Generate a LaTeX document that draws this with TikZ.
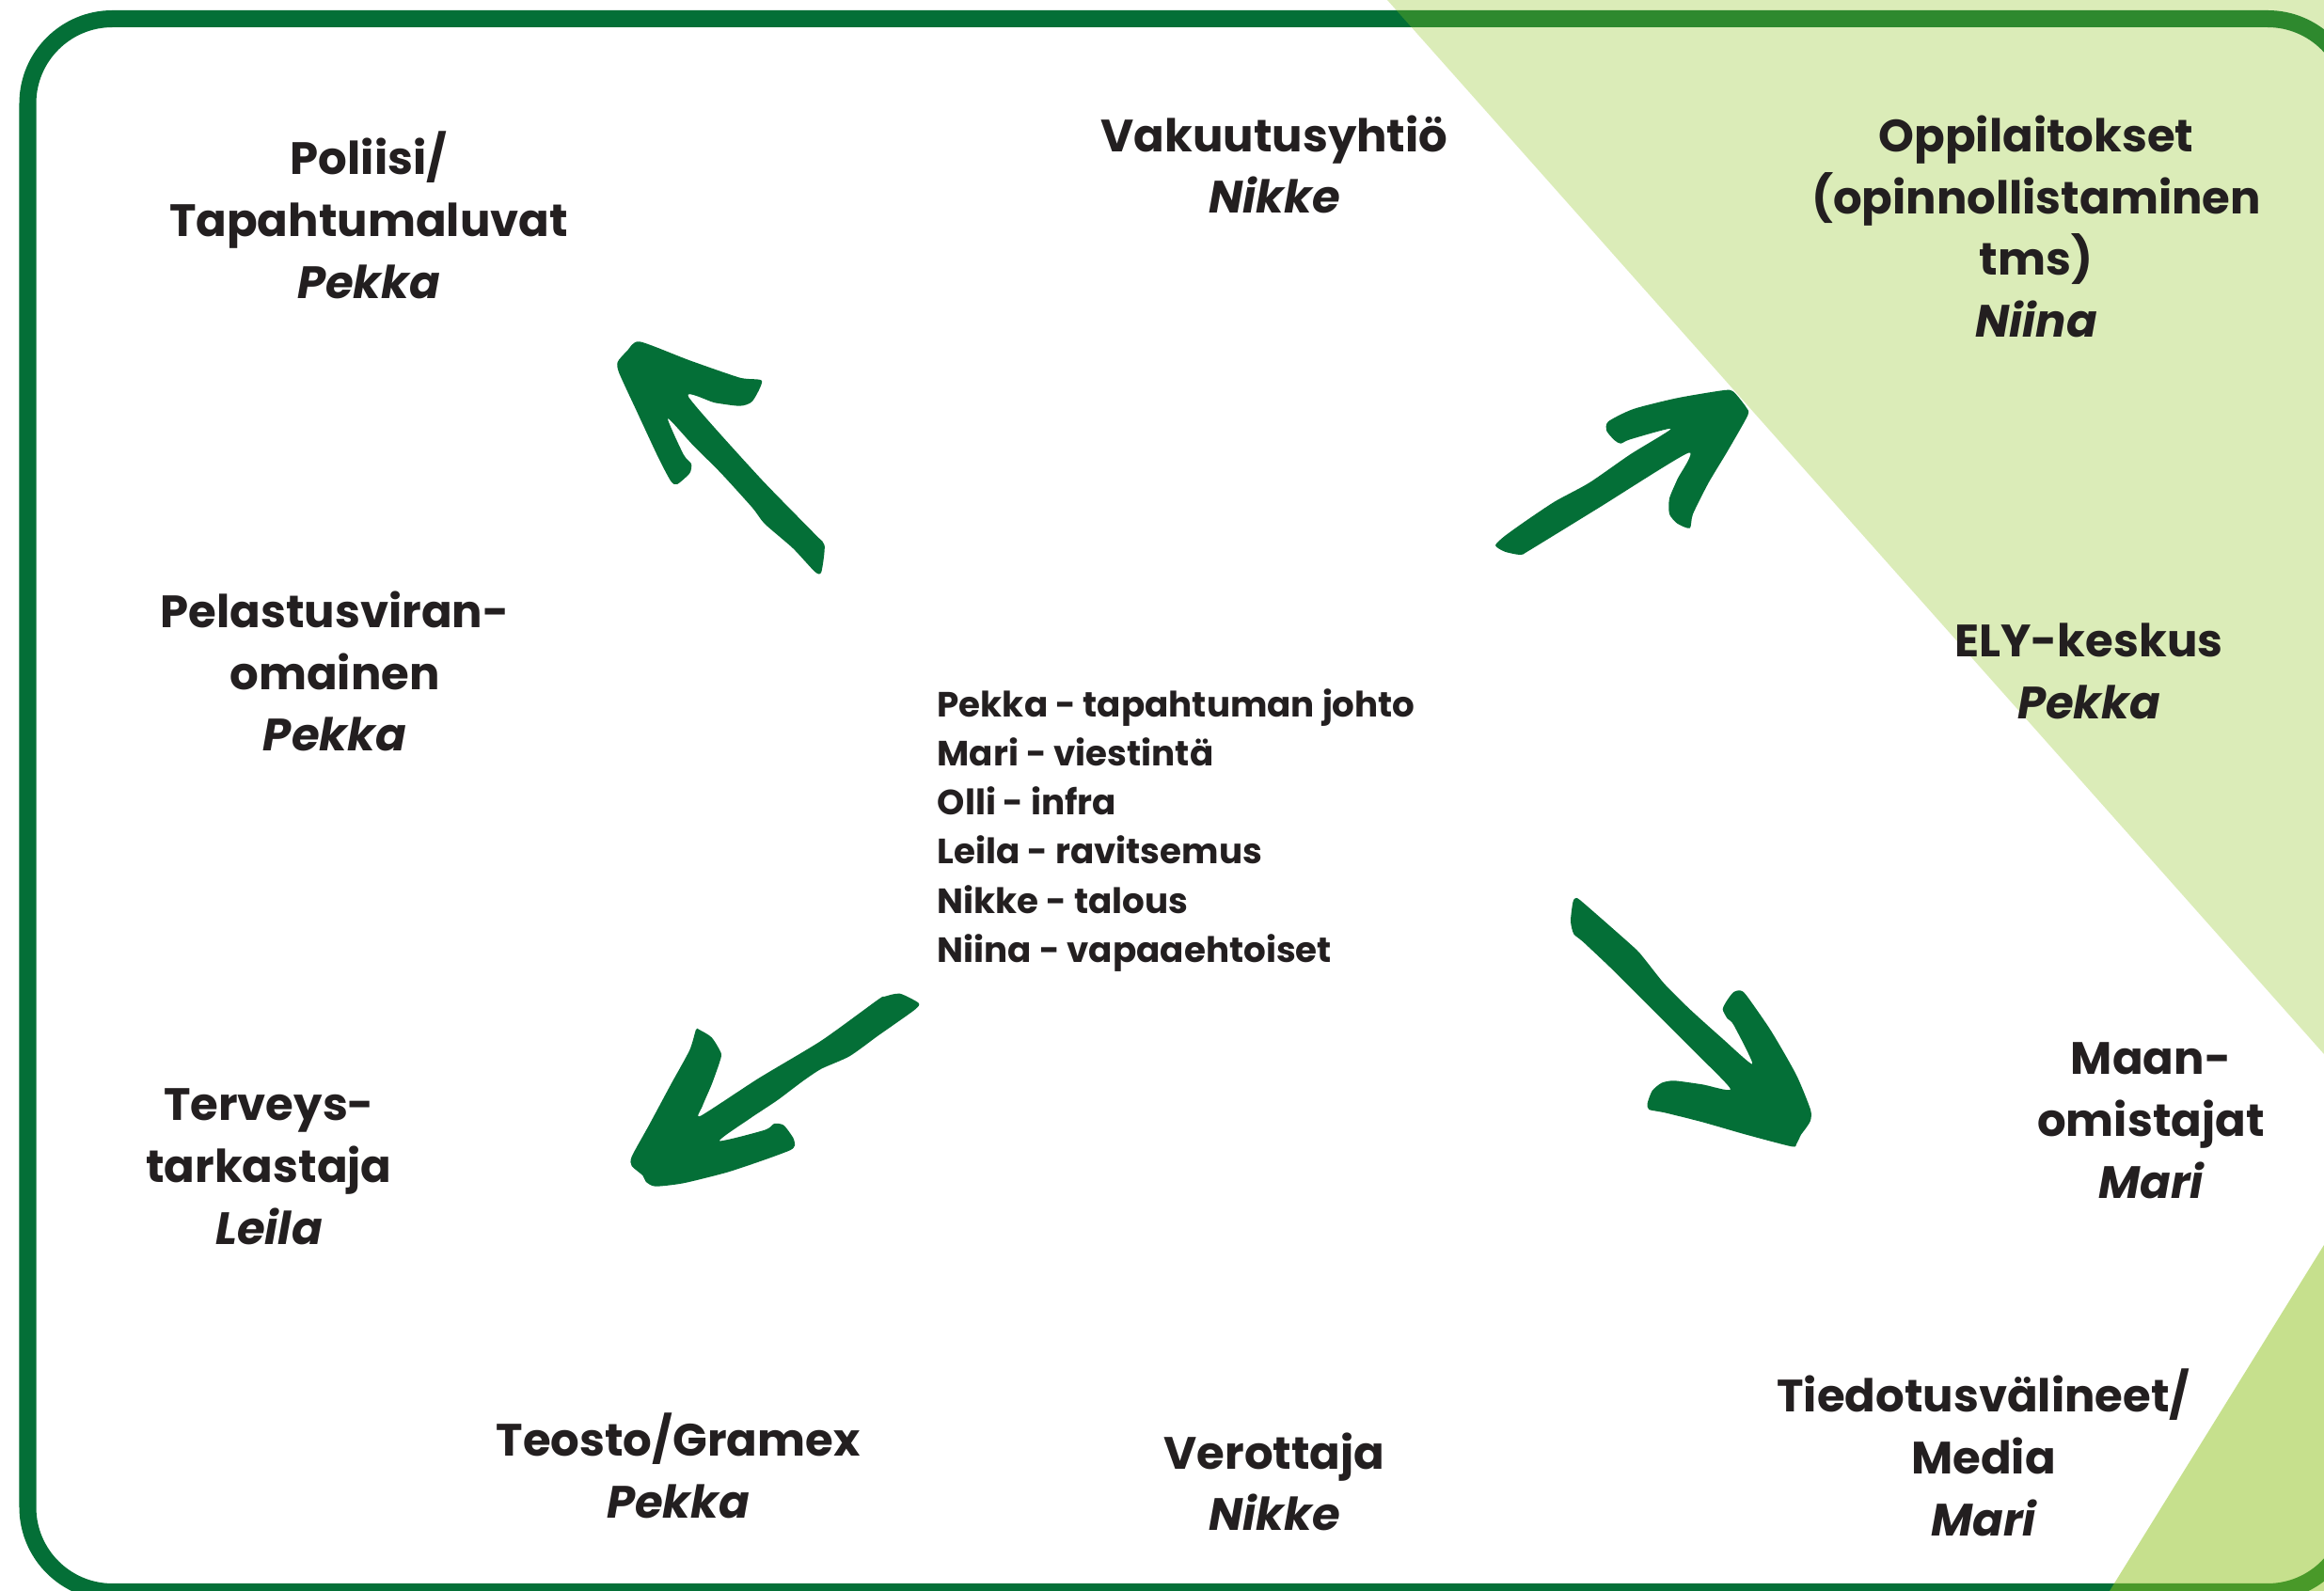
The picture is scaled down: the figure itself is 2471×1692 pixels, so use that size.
\documentclass[tikz,border=0pt]{standalone}
\usepackage{fontspec}
\setmainfont{Poppins}
\definecolor{forest}{HTML}{046F37}
\definecolor{lime}{HTML}{8EC31C}
\definecolor{ink}{HTML}{231F20}

\begin{document}
\begin{tikzpicture}[x=0.01cm, y=-0.01cm,
  frame/.style={draw=forest, line width=0.18cm, rounded corners=0.9cm},
  wash/.style={fill=lime, opacity=0.31},
  wedge/.style={fill=lime, opacity=0.5},
  brush/.style={fill=forest},
  lbl/.style={align=center, inner sep=0pt, text=ink,
    font=\fontsize{13.7}{18.7}\selectfont\bfseries},
  roles/.style={align=left, inner sep=0pt, text=ink, anchor=west,
    font=\fontsize{10.6}{14.8}\selectfont\bfseries}]

\useasboundingbox (0,0) rectangle (2471,1692);
\clip (0,0) rectangle (2471,1692);
\fill[white] (0,0) rectangle (2471,1692);

% rounded border, its right side runs past the page edge
\draw[frame] (29.5,20) rectangle (2501,1693);

% translucent green panels
\fill[wash] (1475,0) -- (2471,0) -- (2471,1121) -- cycle;
\fill[wedge] (2243,1692) -- (2471,1324) -- (2471,1692) -- cycle;

% brush-stroke arrows
\fill[brush] plot[smooth cycle, tension=0.4] coordinates {
  (666.7,373.3) (680,363.3) (733.3,383.3) (786.7,401.7) (810,405)
  (800,426.7) (786.7,431.7) (760,428.3) (732,422)
  (806.7,506.7) (866.7,568.3) (876.7,580) (873.3,608.3) (866.7,608.3)
  (843,583) (813,557) (800,540) (766.7,503.3) (736.7,473.3) (710,445)
  (726.7,483.3) (735,493.3) (733.3,503.3) (720,515) (713.3,511.7)
  (700,486.7) (676.7,436.7) (658.3,396.7) (656.7,385)};

\fill[brush] plot[smooth cycle, tension=0.4] coordinates {
  (1590,580) (1600,586.7) (1616.7,590) (1626.7,585) (1700,540) (1795,481.7)
  (1783.3,510) (1775,530) (1775,546.7) (1783.3,556.7) (1796.7,561.7)
  (1800,546.7) (1816.7,513.3) (1836.7,480) (1858.3,441.7) (1856.7,433.3)
  (1843.3,416.7) (1833.3,415) (1783.3,423.3) (1736.7,435) (1710,448.3)
  (1708.3,458.3) (1716.7,468.3) (1723.3,471.7) (1733.3,467.3) (1776.7,456)
  (1733.3,483.3) (1690,513.3) (1653.3,533.3) (1623.3,553.3) (1600,570)};

\fill[brush] plot[smooth cycle, tension=0.4] coordinates {
  (940,1060) (956.7,1056.7) (976.7,1066.7) (973.3,1073.3) (950,1090)
  (933.3,1101.7) (903.3,1123.3) (873.3,1136.7) (853.3,1150) (826.7,1170)
  (796.7,1190) (765,1213.3)
  (813.3,1201.7) (823.3,1195) (833.3,1196.7) (843.3,1210) (845,1218.3)
  (840,1223.3) (813.3,1233.3) (773.3,1246.7) (726.7,1258.3) (696.7,1261.7)
  (686.7,1256.7) (683.3,1250) (671.7,1240) (671.7,1230) (690,1196.7)
  (713.3,1153.3) (733.3,1116.7) (740,1095) (743.3,1095) (756.7,1103.3)
  (766.7,1120) (765,1130) (756.7,1153.3) (746.7,1176.7) (745,1186.7)
  (806.7,1146.7) (873.3,1106.7) (933.3,1063.3)};

\fill[brush] plot[smooth cycle, tension=0.4] coordinates {
  (1673.3,956.7) (1676.7,955) (1683.3,960) (1710,983.3) (1740,1010)
  (1750,1021.7) (1770,1046.7) (1796.7,1073.3) (1830,1103.3) (1863.3,1131.7)
  (1843.3,1090) (1836.7,1083.3) (1831.7,1073.3) (1836.7,1063.3) (1843.3,1055)
  (1850,1053.3) (1856.7,1058.3) (1883.3,1096.7) (1910,1143.3) (1925,1180)
  (1925,1191.7) (1920,1200) (1915,1206.7) (1910,1216.7) (1905,1219.3)
  (1856.7,1206.7) (1810,1193.3) (1770,1183.3) (1753.3,1180) (1751.7,1173.3)
  (1756.7,1160) (1766.7,1151.7) (1780,1149.3) (1810,1153.3) (1840,1158.3)
  (1803.3,1120) (1763.3,1080) (1716.7,1033.3) (1683.3,1001.7) (1673.3,993.3)
  (1670,980) (1671.7,963.3)};

% stakeholders and the person responsible for each
\node[lbl] (poliisi) at (392,229) {Poliisi/\\Tapahtumaluvat\\{\itshape Pekka}};
\node[lbl] (vakuutus) at (1355,175) {Vakuutusyhtiö\\{\itshape Nikke}};
\node[lbl] (oppilaitos) at (2165,241) {Oppilaitokset\\(opinnollistaminen\\tms)\\{\itshape Niina}};
\node[lbl] (pelastus) at (356,714) {Pelastusviran-\\omainen\\{\itshape Pekka}};
\node[lbl] (ely) at (2221,714) {ELY-keskus\\{\itshape Pekka}};
\node[lbl] (terveys) at (286,1241) {Terveys-\\tarkastaja\\{\itshape Leila}};
\node[lbl] (maan) at (2287,1192) {Maan-\\omistajat\\{\itshape Mari}};
\node[lbl] (teosto) at (721,1559) {Teosto/Gramex\\{\itshape Pekka}};
\node[lbl] (vero) at (1355,1576) {Verottaja\\{\itshape Nikke}};
\node[lbl] (media) at (2109,1545) {Tiedotusvälineet/\\Media\\{\itshape Mari}};

% team roles in the middle
\node[roles] (tiimi) at (996,883) {Pekka - tapahtuman johto\\Mari - viestintä\\Olli - infra\\Leila - ravitsemus\\Nikke - talous\\Niina - vapaaehtoiset};

\end{tikzpicture}
\end{document}
